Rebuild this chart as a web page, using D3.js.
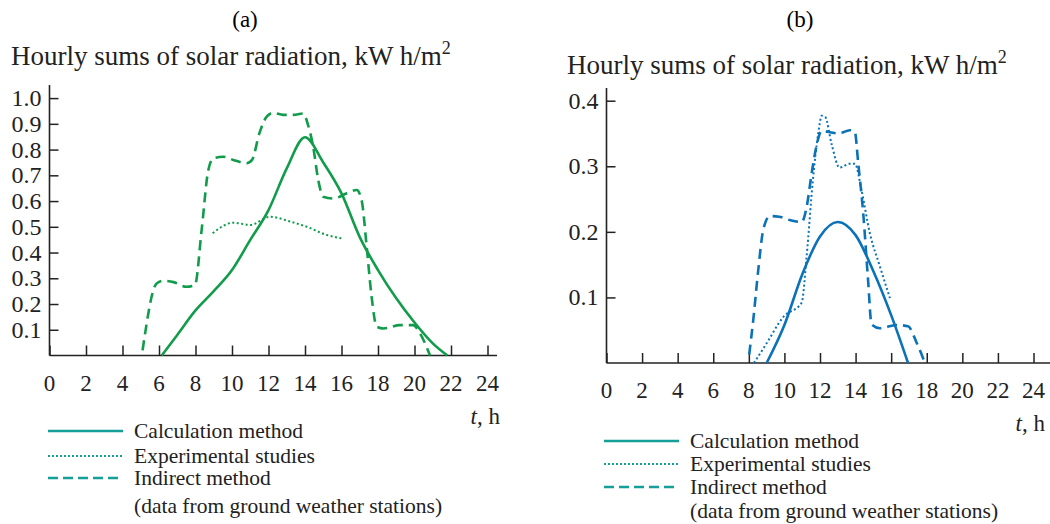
<!DOCTYPE html>
<html>
<head>
<meta charset="utf-8">
<script src="https://cdn.jsdelivr.net/npm/d3@7"></script>
<style>
  body { margin: 0; background: #fff; }
  svg { font-family: "Liberation Serif", "DejaVu Serif", serif; }
</style>
</head>
<body>
<div id="chart"></div>
<script>
// 横轴刻度
var hourTicks = [0, 2, 4, 6, 8, 10, 12, 14, 16, 18, 20, 22, 24];
var ticksA = [0.1, 0.2, 0.3, 0.4, 0.5, 0.6, 0.7, 0.8, 0.9, 1.0];
var ticksB = [0.1, 0.2, 0.3, 0.4];

// (a) 计算方法
var calcA_t = [6.15, 7, 8, 9, 10, 11, 12, 13, 14, 15, 16, 17, 18, 19, 20, 21, 21.8];
var calcA_v = [0, 0.08, 0.175, 0.25, 0.332, 0.449, 0.565, 0.727, 0.848, 0.75, 0.63, 0.46, 0.332, 0.222, 0.128, 0.047, 0];
// (a) 实验
var expA_t = [8.94, 10.07, 10.99, 12.08, 13.2, 14.1, 15.2, 16.0];
var expA_v = [0.475, 0.516, 0.507, 0.539, 0.52, 0.50, 0.468, 0.455];
// (a) 间接方法
var indA_t = [5.1, 5.87, 6.24, 6.8, 7.5, 7.97, 8.34, 8.7, 8.98, 9.52, 10.07, 10.8, 11.1, 11.5, 11.9, 12.26, 12.8, 13.35, 13.9, 14.17, 14.45, 14.73, 15.0, 15.55, 16.3, 16.83, 17.1, 17.38, 17.65, 17.93, 18.3, 19.2, 19.93, 20.3, 20.85];
var indA_v = [0.02, 0.28, 0.29, 0.285, 0.267, 0.274, 0.49, 0.72, 0.766, 0.772, 0.76, 0.747, 0.76, 0.863, 0.928, 0.943, 0.935, 0.935, 0.94, 0.895, 0.81, 0.68, 0.617, 0.61, 0.63, 0.643, 0.604, 0.423, 0.228, 0.112, 0.105, 0.118, 0.118, 0.086, 0];

// (b) 计算方法
var calcB_t = [9.0, 10, 11, 12, 13, 14, 15, 16, 16.95];
var calcB_v = [0, 0.058, 0.135, 0.193, 0.215, 0.195, 0.14, 0.073, 0];
// (b) 实验
var expB_t = [8.29, 9.0, 9.93, 10.97, 11.25, 11.6, 11.9, 12.1, 12.3, 12.65, 13.1, 13.68, 13.96, 14.33, 14.8, 15.37, 15.93];
var expB_v = [0, 0.03, 0.07, 0.092, 0.163, 0.279, 0.35, 0.377, 0.375, 0.334, 0.298, 0.304, 0.304, 0.264, 0.198, 0.147, 0.099];
// (b) 间接方法
var indB_t = [8.02, 8.25, 8.53, 8.81, 9.18, 9.7, 10.3, 10.97, 11.25, 11.53, 11.81, 12.09, 12.56, 13.03, 13.68, 13.96, 14.15, 14.43, 14.7, 14.9, 15.37, 16.3, 16.95, 17.43, 17.9];
var indB_v = [0.013, 0.066, 0.142, 0.203, 0.224, 0.223, 0.218, 0.215, 0.238, 0.289, 0.332, 0.354, 0.352, 0.35, 0.355, 0.352, 0.304, 0.228, 0.127, 0.059, 0.053, 0.058, 0.056, 0.031, 0];

var legendNames = ['Calculation method', 'Experimental studies', 'Indirect method'];
var legendNote = '(data from ground weather stations)';

var width = 1050, height = 524;
var legendColor = '#159f99';

var svg = d3.select('#chart')
            .append('svg')
            .attr('width', width)
            .attr('height', height);

function zip(ts, vs) {
    return ts.map(function(t, i) { return [t, vs[i]]; });
}

var panel = function(cfg) {
    var x = d3.scaleLinear().domain([0, 24]).range([cfg.x0, cfg.x1]);
    var y = d3.scaleLinear().domain([0, cfg.ymax]).range([cfg.y0, cfg.ytop]);
    var g = svg.append('g');

    // 面板标签
    g.append('text')
        .attr('x', cfg.labelX).attr('y', 27)
        .attr('text-anchor', 'middle')
        .style('font-size', '23px')
        .text(cfg.label);

    // 纵轴标题
    var title = g.append('text')
        .attr('x', cfg.titleX).attr('y', cfg.titleY)
        .style('font-size', '27px')
        .style('fill', '#222');
    title.append('tspan').text('Hourly sums of solar radiation, kW h/m');
    title.append('tspan').attr('dy', -11).style('font-size', '18px').text('2');

    // 坐标轴
    var xAxis = d3.axisBottom(x).tickValues(hourTicks).tickSize(-10).tickFormat('');
    var gx = g.append('g')
        .attr('transform', 'translate(0,' + cfg.y0 + ')')
        .call(xAxis);
    gx.select('.domain').remove();
    gx.selectAll('line').attr('stroke', '#222').attr('stroke-width', 1.5);
    g.append('line')
        .attr('x1', cfg.x0).attr('x2', cfg.axisEnd)
        .attr('y1', cfg.y0).attr('y2', cfg.y0)
        .attr('stroke', '#222').attr('stroke-width', 1.6);

    var yAxis = d3.axisLeft(y).tickValues(cfg.yticks).tickSize(-9).tickFormat('');
    var gy = g.append('g')
        .attr('transform', 'translate(' + cfg.x0 + ',0)')
        .call(yAxis);
    gy.select('.domain').remove();
    gy.selectAll('line').attr('stroke', '#222').attr('stroke-width', 1.5);
    g.append('line')
        .attr('x1', cfg.x0).attr('x2', cfg.x0)
        .attr('y1', cfg.axisTop).attr('y2', cfg.y0)
        .attr('stroke', '#222').attr('stroke-width', 1.6);

    g.append('g').selectAll('text')
        .data(cfg.yticks)
        .enter()
        .append('text')
        .attr('x', cfg.x0 - 8)
        .attr('y', function(d) { return y(d) + 8; })
        .attr('text-anchor', 'end')
        .style('font-size', '24px')
        .style('fill', '#222')
        .text(function(d) { return d.toFixed(1); });

    g.append('g').selectAll('text')
        .data(hourTicks)
        .enter()
        .append('text')
        .attr('x', function(d) { return x(d); })
        .attr('y', cfg.y0 + 35)
        .attr('text-anchor', 'middle')
        .style('font-size', '23px')
        .style('fill', '#222')
        .text(function(d) { return d; });

    var unit = g.append('text')
        .attr('x', cfg.unitX).attr('y', cfg.y0 + 68)
        .attr('text-anchor', 'end')
        .style('font-size', '23px')
        .style('fill', '#222');
    unit.append('tspan').style('font-style', 'italic').text('t');
    unit.append('tspan').text(', h');

    // 曲线
    var line = d3.line()
        .x(function(d) { return x(d[0]); })
        .y(function(d) { return y(d[1]); })
        .curve(d3.curveMonotoneX);

    var series = [
        { data: zip(cfg.calc[0], cfg.calc[1]), dash: null, w: 2.6 },
        { data: zip(cfg.exp[0], cfg.exp[1]), dash: '2,2.5', w: 2 },
        { data: zip(cfg.ind[0], cfg.ind[1]), dash: '10,6', w: 2.6 }
    ];
    g.append('g').selectAll('path')
        .data(series)
        .enter()
        .append('path')
        .attr('d', function(d) { return line(d.data); })
        .attr('fill', 'none')
        .attr('stroke', cfg.color)
        .attr('stroke-width', function(d) { return d.w; })
        .attr('stroke-dasharray', function(d) { return d.dash; });

    // 图例
    var lg = g.append('g');
    lg.selectAll('line')
        .data(series)
        .enter()
        .append('line')
        .attr('x1', cfg.legX).attr('x2', cfg.legX + 75)
        .attr('y1', function(d, i) { return cfg.legRows[i]; })
        .attr('y2', function(d, i) { return cfg.legRows[i]; })
        .attr('stroke', legendColor)
        .attr('stroke-width', function(d, i) { return i == 1 ? 2.2 : 2.6; })
        .attr('stroke-dasharray', function(d, i) { return i == 1 ? '2,2' : (i == 2 ? '10,5' : null); });
    lg.selectAll('text')
        .data(legendNames.concat([legendNote]))
        .enter()
        .append('text')
        .attr('x', cfg.legX + 86)
        .attr('y', function(d, i) { return cfg.legRows[i] + 7; })
        .style('font-size', '21.5px')
        .style('fill', '#222')
        .text(function(d) { return d; });
};

panel({
    label: '(a)', labelX: 245, titleX: 11, titleY: 65,
    x0: 49.5, x1: 487.5, axisEnd: 497, y0: 355.5, ytop: 98.1, axisTop: 85, ymax: 1,
    yticks: ticksA, unitX: 500, color: '#119c4b',
    calc: [calcA_t, calcA_v], exp: [expA_t, expA_v], ind: [indA_t, indA_v],
    legX: 48, legRows: [431, 456, 478, 506]
});

panel({
    label: '(b)', labelX: 800, titleX: 567, titleY: 74,
    x0: 606.5, x1: 1033.5, axisEnd: 1050, y0: 363, ytop: 100.7, axisTop: 88, ymax: 0.4,
    yticks: ticksB, unitX: 1045, color: '#0c72b8',
    calc: [calcB_t, calcB_v], exp: [expB_t, expB_v], ind: [indB_t, indB_v],
    legX: 604, legRows: [441, 464, 487, 511]
});
</script>
</body>
</html>
